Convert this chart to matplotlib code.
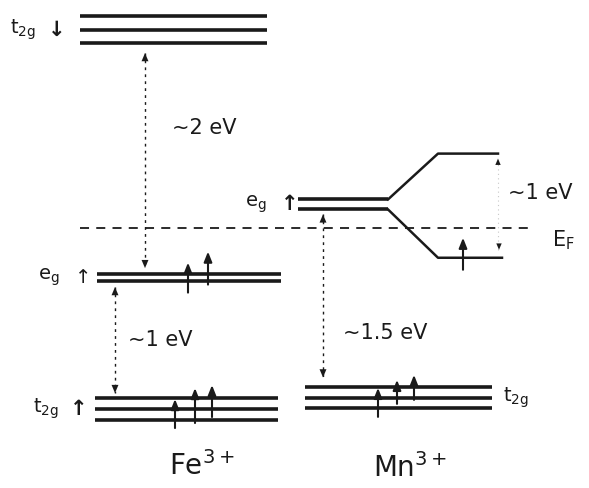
import numpy as np
import matplotlib
matplotlib.use("Agg")
from matplotlib import pyplot as plt

plt.rcParams['font.family'] = ['DejaVu Sans']
plt.rcParams['mathtext.fontset'] = 'dejavusans'

# energies in eV, measured from the Fermi level
e_fermi = 0.0
fe_t2g_dn = 1.60
fe_eg = -0.40
fe_t2g = -1.46
mn_eg = 0.19
mn_t2g = -1.37
mn_eg_split = [0.60, -0.24]   # upper / lower branch after splitting

gap_labels = ["~2 eV", "~1 eV", "~1.5 eV", "~1 eV"]

PX = 1 / 124.0   # eV per pixel at this scale
INK = '#1a1a1a'

fig = plt.figure(figsize=(5.89, 4.88), dpi=100)
ax = fig.add_axes([0, 0, 1, 1])
ax.set_xlim(0, 589)
ax.set_ylim(-260 * PX, 228 * PX)
ax.axis('off')


def level(x0, x1, e, n, gap, lw=2.6):
    ys = e + (np.arange(n) - (n - 1) / 2) * gap * PX
    for y in ys:
        ax.plot([x0, x1], [y, y], color=INK, lw=lw, solid_capstyle='butt')
    return ys


def electron(x, y0, y1, lw=1.5):
    ax.annotate('', xy=(x, y1), xytext=(x, y0),
                arrowprops=dict(arrowstyle='-|>,head_length=0.6,head_width=0.24',
                                color=INK, lw=lw, shrinkA=0, shrinkB=0))


def head(x, y, up, size=0.45):
    d = 8 * PX if up else -8 * PX
    ax.annotate('', xy=(x, y), xytext=(x, y - d),
                arrowprops=dict(arrowstyle='-|>,head_length=%g,head_width=%g' % (size * 1.3, size * 0.55),
                                color=INK, lw=0.01, shrinkA=0, shrinkB=0))


def dashed_gap(x, y_top, y_bot, ls=(0, (2, 3))):
    ax.plot([x, x], [y_top, y_bot], color=INK, lw=1.0, ls=ls)
    head(x, y_top, True)
    head(x, y_bot, False)


# Fe3+ levels
dn = level(80, 267, fe_t2g_dn, 3, 13.5)
fe_e = level(97, 281, fe_eg, 2, 7)
fe_t = level(95, 278, fe_t2g, 3, 11)

# Mn3+ levels
mn_e = level(298, 388, mn_eg, 2, 10)
mn_t = level(305, 492, mn_t2g, 3, 10.5)

# Jahn-Teller splitting of the Mn eg level
up, low = mn_eg_split
ax.plot([388, 438, 498], [mn_e[1], up, up], color=INK, lw=1.8)
ax.plot([388, 438, 502], [mn_e[0], low, low], color=INK, lw=1.8)

# Fermi level
ax.plot([80, 535], [e_fermi, e_fermi], color=INK, lw=1.3, ls=(0, (5, 4)))
ax.text(552, e_fermi - 12 * PX, r'E$_\mathrm{F}$', fontsize=15, color=INK, ha='left', va='center')

# gaps
dashed_gap(145, dn[0] - 10 * PX, fe_e[1] + 6 * PX)
dashed_gap(115, fe_e[0] - 6 * PX, fe_t[2] + 5 * PX)
dashed_gap(323, mn_e[0] - 5 * PX, mn_t[2] + 10 * PX)
ax.plot([498, 498], [up - 6 * PX, low + 8 * PX], color='#c8c8c8', lw=0.8, ls=(0, (1, 3)))
head(498, up - 5 * PX, True, 0.35)
head(499, low + 8 * PX, False, 0.35)

ax.text(172, (228 - 128) * PX, gap_labels[0], fontsize=15, color=INK, va='center')
ax.text(128, (228 - 340) * PX, gap_labels[1], fontsize=15, color=INK, va='center')
ax.text(343, (228 - 333) * PX, gap_labels[2], fontsize=15, color=INK, va='center')
ax.text(508, (228 - 193) * PX, gap_labels[3], fontsize=15, color=INK, va='center')

# electrons
electron(188, fe_eg - 15 * PX, fe_eg + 15 * PX)
electron(208, fe_eg - 7 * PX, fe_eg + 26 * PX)
electron(175, fe_t2g - 19 * PX, fe_t2g + 10 * PX)
electron(195, fe_t2g - 14 * PX, fe_t2g + 21 * PX)
electron(212, fe_t2g - 8 * PX, fe_t2g + 24 * PX)
electron(378, mn_t2g - 19 * PX, mn_t2g + 10 * PX)
electron(397, mn_t2g - 6 * PX, mn_t2g + 18 * PX)
electron(414, mn_t2g - 2 * PX, mn_t2g + 23 * PX)
electron(463, low - 12 * PX, low + 20 * PX)

# orbital labels
T2G = r't$_\mathrm{2g}$'
EG = r'e$_\mathrm{g}$'
ax.text(10, dn[1], T2G, fontsize=14, color=INK, va='center')
ax.text(48, dn[1], '\u2193', fontsize=15, color=INK, va='center', fontweight='bold')
ax.text(38, fe_eg, EG, fontsize=14, color=INK, va='center')
ax.text(75, fe_eg, '\u2191', fontsize=14, color=INK, va='center')
ax.text(33, fe_t2g, T2G, fontsize=14, color=INK, va='center')
ax.text(70, fe_t2g, '\u2191', fontsize=15, color=INK, va='center', fontweight='bold')
ax.text(245, mn_eg, EG, fontsize=14, color=INK, va='center')
ax.text(281, mn_eg, '\u2191', fontsize=15, color=INK, va='center', fontweight='bold')
ax.text(503, mn_t2g, T2G, fontsize=14, color=INK, va='center')

ax.text(202, (228 - 466) * PX, r'Fe$^{3+}$', fontsize=20, color=INK, ha='center', va='center')
ax.text(410, (228 - 468) * PX, r'Mn$^{3+}$', fontsize=20, color=INK, ha='center', va='center')

fig.savefig('out.png', dpi=100, facecolor='white')
